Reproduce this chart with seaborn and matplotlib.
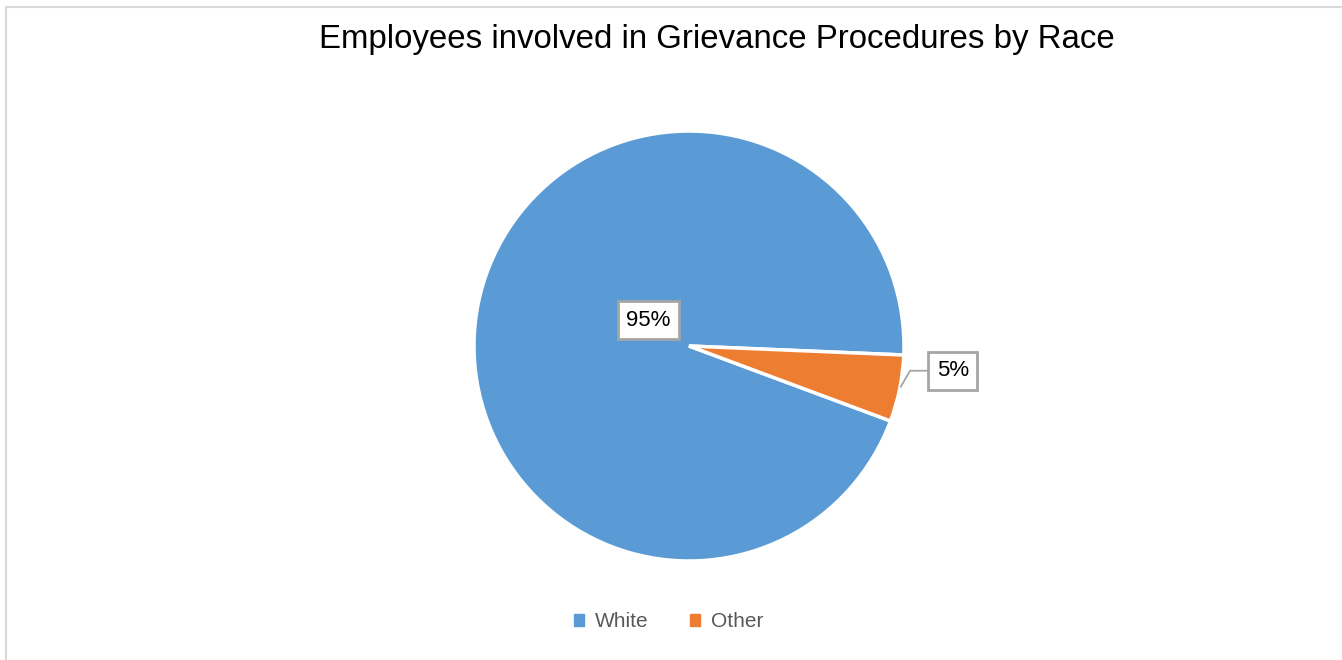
import matplotlib
matplotlib.use("Agg")
import matplotlib.pyplot as plt
import seaborn as sns
from matplotlib.patches import Rectangle

categories = ["White", "Other"]
shares = [95, 5]
pct_labels = ["95%", "5%"]
colors = sns.color_palette(["#5B9BD5", "#ED7D31"])

sns.set_theme(style="white")
plt.rcParams['font.family'] = ['Liberation Sans', 'DejaVu Sans']

fig = plt.figure(figsize=(13.42, 6.6), dpi=100)
# light grey chart border, cut off at right/bottom like the screenshot
fig.patches.append(Rectangle((6 / 1342, -0.05), 1.1, (660 - 7) / 660 + 0.05,
                             transform=fig.transFigure, fill=False,
                             edgecolor="#D9D9D9", linewidth=1.5))

ax = fig.add_axes([0.3532, 0.15, 0.3204, 0.6515])
wedges, _ = ax.pie(shares, colors=colors, startangle=-2.4, counterclock=True,
                   radius=1, wedgeprops=dict(edgecolor="white", linewidth=2.5))
ax.set_xlim(-1, 1)
ax.set_ylim(-1, 1)
ax.set_aspect("equal")

box = dict(boxstyle="square,pad=0.38", facecolor="white", edgecolor="#A5A5A5", linewidth=2)
ax.text(-0.19, 0.12, pct_labels[0], ha="center", va="center", fontsize=16,
        color="#000000", bbox=box)
ax.annotate(pct_labels[1], xy=(0.985, -0.19), xytext=(1.228, -0.115),
            ha="center", va="center", fontsize=16, color="#000000", bbox=box,
            annotation_clip=False,
            arrowprops=dict(arrowstyle="-", color="#A5A5A5", linewidth=1.3,
                            connectionstyle="angle,angleA=0,angleB=60,rad=0",
                            shrinkA=0, shrinkB=0))

fig.text(0.534, 0.94, "Employees involved in Grievance Procedures by Race",
         ha="center", va="center", fontsize=23.8, color="#000000")

handles = [plt.Rectangle((0, 0), 1, 1, color=c) for c in colors]
fig.legend(handles, categories, loc="center", bbox_to_anchor=(0.498, 0.058),
           ncol=2, frameon=False, fontsize=15, handlelength=0.5, handleheight=0.5,
           columnspacing=2.0, handletextpad=0.5, labelcolor="#595959")

fig.savefig("out.png", dpi=100)
